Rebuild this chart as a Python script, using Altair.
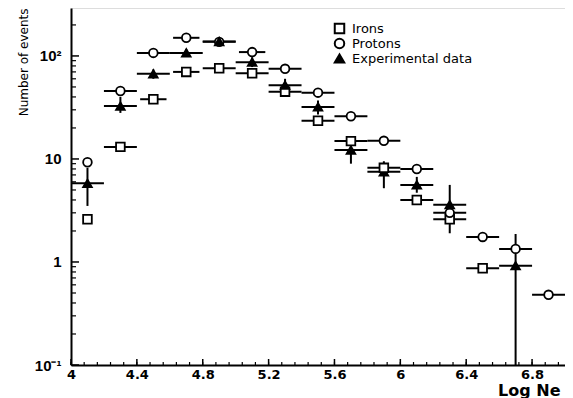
import altair as alt
import pandas as pd

series_names = ["Irons", "Protons", "Experimental data"]

iron_x = [4.1, 4.3, 4.5, 4.7, 4.9, 5.1, 5.3, 5.5, 5.7, 5.9, 6.1, 6.3, 6.5]
iron_y = [2.6, 13.1, 38, 70, 76, 68, 45, 23.5, 14.9, 8.2, 4.0, 2.6, 0.87]
iron_dx = [0, 0.1, 0.08, 0.08, 0.1, 0.1, 0.1, 0.1, 0.1, 0.1, 0.1, 0.1, 0.1]

proton_x = [4.1, 4.3, 4.5, 4.7, 4.9, 5.1, 5.3, 5.5, 5.7, 5.9, 6.1, 6.3, 6.5, 6.7, 6.9]
proton_y = [9.3, 45.7, 107, 150, 137, 109, 75, 44, 26, 15, 8.0, 3.0, 1.75, 1.34, 0.48]
proton_dx = [0, 0.1, 0.1, 0.08, 0.1, 0.08, 0.1, 0.1, 0.1, 0.1, 0.1, 0.1, 0.1, 0.1, 0.1]

exp_x = [4.1, 4.3, 4.5, 4.7, 4.9, 5.1, 5.3, 5.5, 5.7, 5.9, 6.1, 6.3, 6.7]
exp_y = [5.8, 32.6, 67, 107, 138, 87, 52, 32, 12.2, 7.5, 5.6, 3.6, 0.92]
exp_lo = [3.5, 28, 60, 98, 128, 78, 45, 27, 9, 5.2, 4.7, 1.9, 0.1]
exp_hi = [8.2, 40, 74, 117, 148, 97, 60, 37, 16, 9.5, 6.7, 5.6, 1.87]
exp_dx = [0.1] * 13

x_major_ticks = [4.0, 4.4, 4.8, 5.2, 5.6, 6.0, 6.4, 6.8]
x_minor_ticks = [round(4 + 0.08 * k, 2) for k in range(38)]
y_major_ticks = [0.1, 1, 10, 100]
y_minor_ticks = [round(m * 10 ** e, 3) for e in (-1, 0, 1) for m in range(2, 10)] + [200]

rows = []
for name, xs, ys, dxs in [("Irons", iron_x, iron_y, iron_dx),
                          ("Protons", proton_x, proton_y, proton_dx),
                          ("Experimental data", exp_x, exp_y, exp_dx)]:
    for x, y, d in zip(xs, ys, dxs):
        rows.append({"series": name, "x": x, "y": y, "xlo": x - d, "xhi": x + d})
pts = pd.DataFrame(rows)
verr = pd.DataFrame({"x": exp_x, "lo": exp_lo, "hi": exp_hi})

W, H = 494, 357
xscale = alt.Scale(domain=[4, 7], nice=False, zero=False)
yscale = alt.Scale(type="log", domain=[0.1, 292], nice=False)

xaxis = alt.Axis(values=x_major_ticks, ticks=False, grid=False, domainColor="black", domainWidth=2,
                 labelExpr="format(datum.value, '.1~f')", labelFont="DejaVu Sans", labelFontWeight="bold",
                 labelFontSize=13, labelColor="black", labelPadding=3, labelFlush=False, labelOverlap=False,
                 title="Log Ne", titleX=489, titleY=30, titleAlign="right", titleBaseline="alphabetic",
                 titleFont="DejaVu Sans", titleFontSize=16, titleFontWeight="bold", titleColor="black")
yaxis = alt.Axis(values=y_major_ticks, ticks=False, grid=False, domainColor="black", domainWidth=2,
                 labelExpr="datum.value >= 100 ? '10²' : datum.value >= 10 ? '10' : datum.value >= 1 ? '1' : '10⁻¹'",
                 labelFont="Liberation Sans", labelFontWeight="bold", labelFontSize=15, labelColor="black",
                 labelPadding=10, labelOverlap=False, labelFlush=False,
                 title="Number of events", titleX=-41, titleY=0, titleAngle=-90, titleAlign="right",
                 titleBaseline="bottom", titleFont="DejaVu Sans", titleFontSize=12, titleFontWeight="normal",
                 titleColor="black")

X = alt.X("x:Q", scale=xscale, axis=xaxis)
Y = alt.Y("y:Q", scale=yscale, axis=yaxis)

hbars = alt.Chart(pts).mark_rule(color="black", strokeWidth=2).encode(
    x=alt.X("xlo:Q", scale=xscale, axis=xaxis), x2="xhi:Q", y=Y
)
vbars = alt.Chart(verr).mark_rule(color="black", strokeWidth=2).encode(
    x=X, y=alt.Y("lo:Q", scale=yscale, axis=yaxis), y2="hi:Q"
)

leg = alt.Legend(title=None, orient="none", legendX=262, legendY=13, labelFont="DejaVu Sans",
                 labelFontSize=13, labelColor="black", symbolSize=90, symbolStrokeColor="black",
                 symbolStrokeWidth=2, rowPadding=0, clipHeight=15, labelOffset=6)
points = alt.Chart(pts).mark_point(filled=True, strokeWidth=1.8, size=75, opacity=1).encode(
    x=X, y=Y,
    shape=alt.Shape("series:N", scale=alt.Scale(domain=series_names, range=["square", "circle", "triangle-up"]), legend=leg),
    fill=alt.Fill("series:N", scale=alt.Scale(domain=series_names, range=["white", "white", "black"]), legend=leg),
    stroke=alt.Stroke("series:N", scale=alt.Scale(domain=series_names, range=["black", "black", "black"]), legend=leg),
    order=alt.Order("y:Q"),
)

xt_major = alt.Chart(pd.DataFrame({"v": x_major_ticks})).mark_rule(color="black", strokeWidth=1.5).encode(
    x=alt.X("v:Q", scale=xscale, axis=xaxis), y=alt.value(H), y2=alt.value(H - 6))
xt_minor = alt.Chart(pd.DataFrame({"v": x_minor_ticks})).mark_rule(color="black", strokeWidth=1.2).encode(
    x=alt.X("v:Q", scale=xscale, axis=xaxis), y=alt.value(H), y2=alt.value(H - 3))
yt_major = alt.Chart(pd.DataFrame({"v": y_major_ticks})).mark_rule(color="black", strokeWidth=1.5).encode(
    y=alt.Y("v:Q", scale=yscale, axis=yaxis), x=alt.value(0), x2=alt.value(8))
yt_minor = alt.Chart(pd.DataFrame({"v": y_minor_ticks})).mark_rule(color="black", strokeWidth=1.2).encode(
    y=alt.Y("v:Q", scale=yscale, axis=yaxis), x=alt.value(0), x2=alt.value(5))

chart = alt.layer(xt_minor, xt_major, yt_minor, yt_major, hbars, vbars, points).properties(
    width=W, height=H,
    autosize=alt.AutoSizeParams(type="none"),
    padding={"left": 63, "top": 0, "right": 0, "bottom": 33},
).configure_view(stroke="black", strokeWidth=1).configure(background="white")

chart.save("out.html", embed_options={"renderer": "svg", "actions": False})
